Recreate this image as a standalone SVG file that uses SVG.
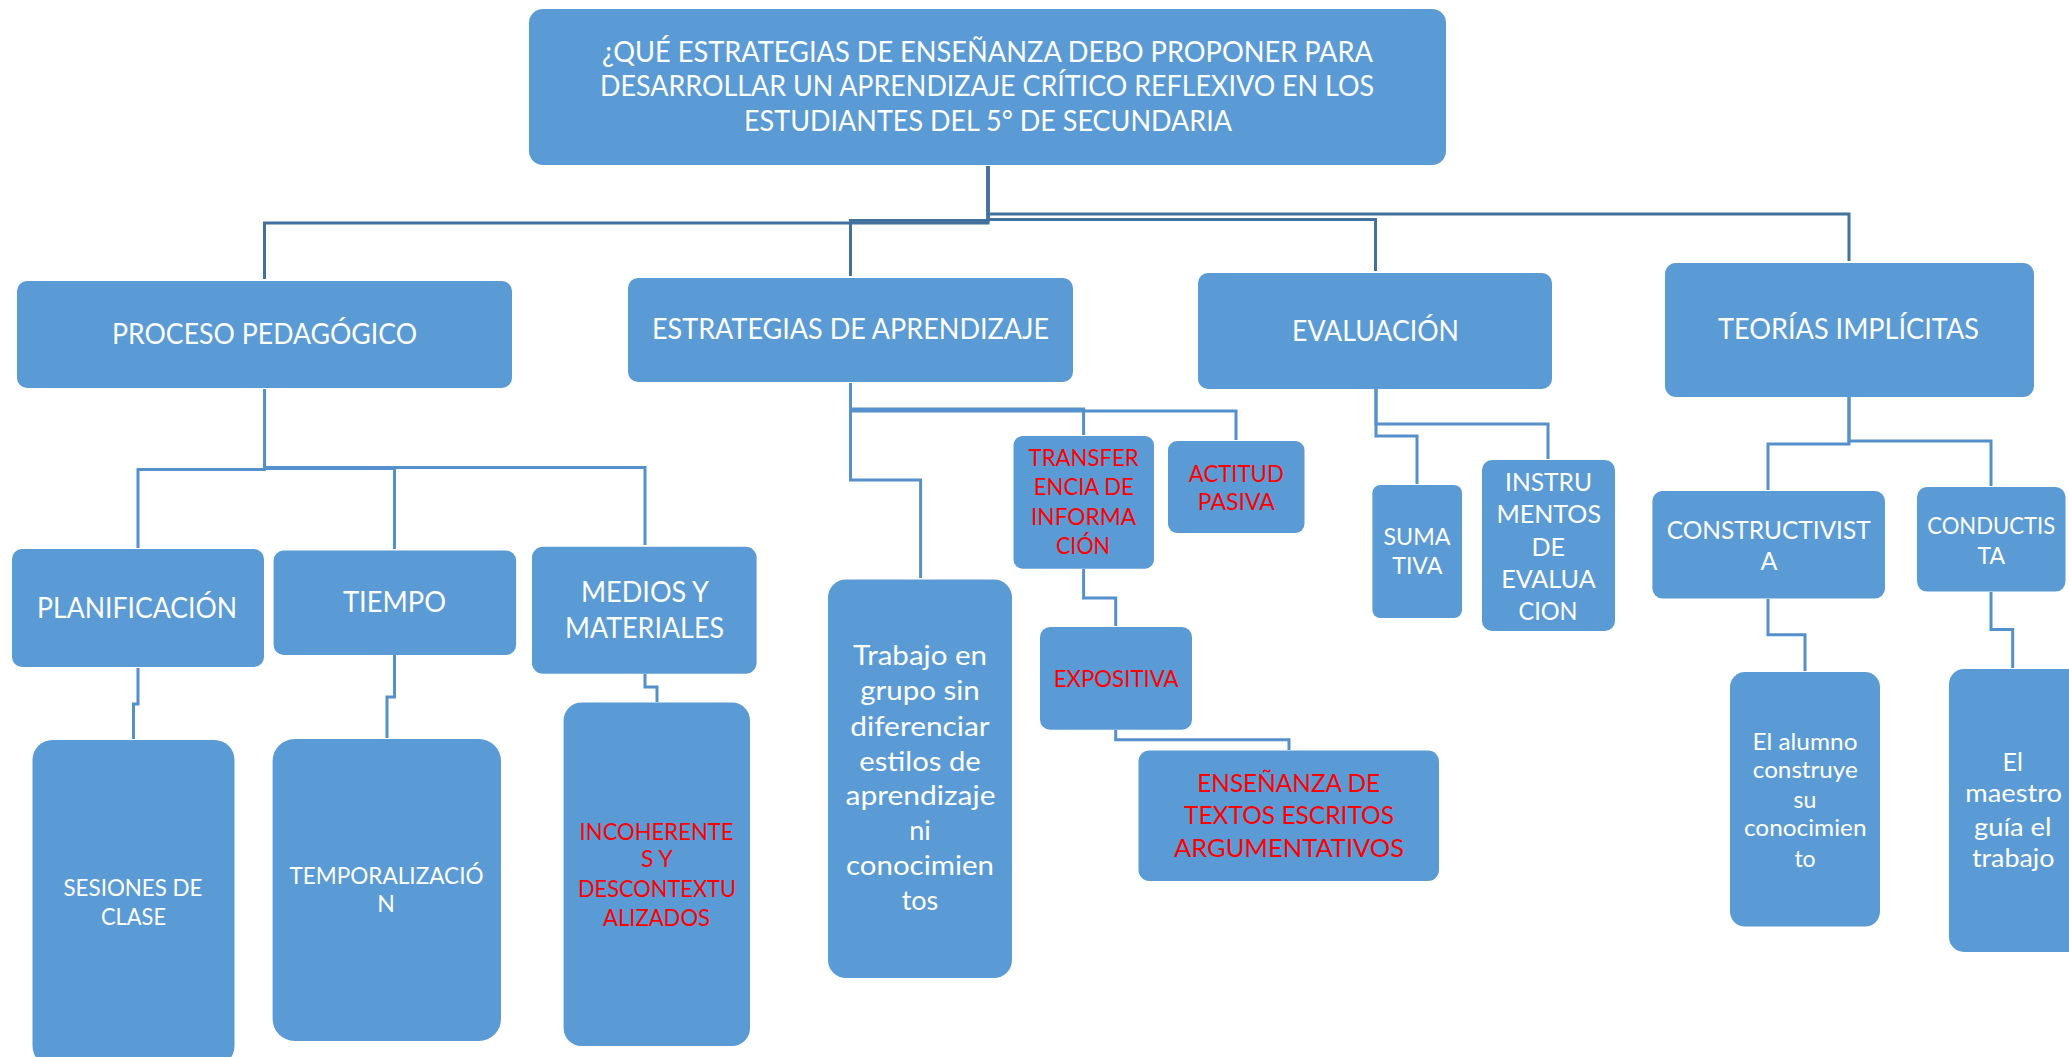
<svg xmlns="http://www.w3.org/2000/svg" width="2069" height="1057" viewBox="0 0 2069 1057">
<style>
.box{fill:#5B9BD5}
.t{font-family:Lato,"Open Sans","Liberation Sans",sans-serif;text-anchor:middle;fill:#FFFFFF}
.r{fill:#FF0000}
.s28{font-size:28px}
.s27{font-size:27px}
.s25{font-size:25px}
.s23{font-size:23px}
.c1{fill:none;stroke:#41719C;stroke-width:3}
.c2{fill:none;stroke:#5490CC;stroke-width:3}
</style>
<rect width="2069" height="1057" fill="#FFFFFF"/>
<g id="connectors">
<path class="c1" d="M988,166 V223 H264.5 V279"/>
<path class="c1" d="M988,166 V220.5 H850.5 V276"/>
<path class="c1" d="M988,166 V219.5 H1375.5 V271"/>
<path class="c1" d="M988,166 V214 H1849 V261"/>
<path class="c2" d="M264.5,389 V469.5 H138 V548"/>
<path class="c2" d="M264.5,389 V468.5 H394.5 V549"/>
<path class="c2" d="M264.5,389 V467.5 H645 V545"/>
<path class="c2" d="M138,668 V704 H133.5 V739"/>
<path class="c2" d="M394.5,655 V697 H387 V738"/>
<path class="c2" d="M645,674 V687 H657 V702"/>
<path class="c2" d="M850.5,383 V409 H1083.6 V435"/>
<path class="c2" d="M850.5,383 V411 H1236 V440"/>
<path class="c2" d="M850.5,383 V480 H920.6 V578"/>
<path class="c2" d="M1083.6,569 V598 H1115.7 V626"/>
<path class="c2" d="M1115.7,730 V739.7 H1289 V750"/>
<path class="c2" d="M1376,389 V424 H1548 V459"/>
<path class="c2" d="M1376,389 V436 H1417 V484"/>
<path class="c2" d="M1849,397 V444 H1768 V490"/>
<path class="c2" d="M1849,397 V441 H1991 V486"/>
<path class="c2" d="M1768,599 V634.7 H1805 V671"/>
<path class="c2" d="M1991,592 V629.6 H2012.7 V668"/>
</g>
<g id="n-top">
<rect class="box" x="529" y="9" width="917" height="156" rx="14"/>
<text class="t s28" x="987.5" y="62" textLength="771" lengthAdjust="spacingAndGlyphs">¿QUÉ ESTRATEGIAS DE ENSEÑANZA DEBO PROPONER PARA</text>
<text class="t s28" x="987" y="96" textLength="774" lengthAdjust="spacingAndGlyphs">DESARROLLAR UN APRENDIZAJE CRÍTICO REFLEXIVO EN LOS</text>
<text class="t s28" x="988" y="131" textLength="488" lengthAdjust="spacingAndGlyphs">ESTUDIANTES DEL 5° DE SECUNDARIA</text>
</g>
<g id="n-proceso">
<rect class="box" x="17" y="281" width="495" height="107" rx="10"/>
<text class="t s28" x="264.5" y="344" textLength="305" lengthAdjust="spacingAndGlyphs">PROCESO PEDAGÓGICO</text>
</g>
<g id="n-estrategias">
<rect class="box" x="628" y="278" width="445" height="104" rx="10"/>
<text class="t s28" x="850.5" y="339" textLength="397" lengthAdjust="spacingAndGlyphs">ESTRATEGIAS DE APRENDIZAJE</text>
</g>
<g id="n-evaluacion">
<rect class="box" x="1198" y="273" width="354" height="116" rx="10"/>
<text class="t s28" x="1375.5" y="341" textLength="167" lengthAdjust="spacingAndGlyphs">EVALUACIÓN</text>
</g>
<g id="n-teorias">
<rect class="box" x="1665" y="263" width="369" height="134" rx="11"/>
<text class="t s28" x="1848.5" y="339" textLength="261" lengthAdjust="spacingAndGlyphs">TEORÍAS IMPLÍCITAS</text>
</g>
<g id="n-planificacion">
<rect class="box" x="12" y="549" width="252" height="118" rx="10"/>
<text class="t s28" x="137" y="618" textLength="200" lengthAdjust="spacingAndGlyphs">PLANIFICACIÓN</text>
</g>
<g id="n-tiempo">
<rect class="box" x="273.6" y="550.5" width="242.5" height="104.5" rx="10"/>
<text class="t s28" x="394.5" y="612" textLength="103" lengthAdjust="spacingAndGlyphs">TIEMPO</text>
</g>
<g id="n-medios">
<rect class="box" x="532" y="546.7" width="224.6" height="127" rx="11"/>
<text class="t s28" x="645" y="602" textLength="128" lengthAdjust="spacingAndGlyphs">MEDIOS Y</text>
<text class="t s28" x="644.5" y="638" textLength="159" lengthAdjust="spacingAndGlyphs">MATERIALES</text>
</g>
<g id="n-sesiones">
<rect class="box" x="32.5" y="740" width="202" height="326" rx="20"/>
<text class="t s23" x="133" y="896" textLength="139" lengthAdjust="spacingAndGlyphs">SESIONES DE</text>
<text class="t s23" x="133.5" y="925" textLength="65" lengthAdjust="spacingAndGlyphs">CLASE</text>
</g>
<g id="n-temporalizacion">
<rect class="box" x="272.6" y="739" width="228.4" height="302" rx="22"/>
<text class="t s23" x="386.5" y="883.5" textLength="194" lengthAdjust="spacingAndGlyphs">TEMPORALIZACIÓ</text>
<text class="t s23" x="386" y="912">N</text>
</g>
<g id="n-incoherentes">
<rect class="box" x="563.6" y="702.5" width="186.4" height="343.5" rx="18"/>
<text class="t s23 r" x="656.6" y="840" textLength="154" lengthAdjust="spacingAndGlyphs">INCOHERENTE</text>
<text class="t s23 r" x="657" y="867">S Y</text>
<text class="t s23 r" x="657" y="897" textLength="158" lengthAdjust="spacingAndGlyphs">DESCONTEXTU</text>
<text class="t s23 r" x="656.5" y="926" textLength="107" lengthAdjust="spacingAndGlyphs">ALIZADOS</text>
</g>
<g id="n-transferencia">
<rect class="box" x="1013.5" y="436" width="140.5" height="132.7" rx="9"/>
<text class="t s23 r" x="1083.6" y="466.4" textLength="110" lengthAdjust="spacingAndGlyphs">TRANSFER</text>
<text class="t s23 r" x="1083.8" y="495.3" textLength="100" lengthAdjust="spacingAndGlyphs">ENCIA DE</text>
<text class="t s23 r" x="1083.5" y="524.6" textLength="105" lengthAdjust="spacingAndGlyphs">INFORMA</text>
<text class="t s23 r" x="1083" y="553.6" textLength="54" lengthAdjust="spacingAndGlyphs">CIÓN</text>
</g>
<g id="n-actitud">
<rect class="box" x="1168" y="441" width="136.5" height="92" rx="9"/>
<text class="t s23 r" x="1236.3" y="481.5" textLength="95" lengthAdjust="spacingAndGlyphs">ACTITUD</text>
<text class="t s23 r" x="1236.3" y="509.5" textLength="77" lengthAdjust="spacingAndGlyphs">PASIVA</text>
</g>
<g id="n-trabajo">
<rect class="box" x="828" y="579.5" width="184" height="398.5" rx="18"/>
<text class="t s27" x="920" y="665" textLength="134" lengthAdjust="spacingAndGlyphs">Trabajo en</text>
<text class="t s27" x="920" y="700" textLength="119.5" lengthAdjust="spacingAndGlyphs">grupo sin</text>
<text class="t s27" x="920" y="736" textLength="139.5" lengthAdjust="spacingAndGlyphs">diferenciar</text>
<text class="t s27" x="920" y="770.8" textLength="121.5" lengthAdjust="spacingAndGlyphs">estilos de</text>
<text class="t s27" x="920.5" y="805" textLength="150" lengthAdjust="spacingAndGlyphs">aprendizaje</text>
<text class="t s27" x="920" y="840">ni</text>
<text class="t s27" x="920" y="875" textLength="148" lengthAdjust="spacingAndGlyphs">conocimien</text>
<text class="t s27" x="920" y="910">tos</text>
</g>
<g id="n-expositiva">
<rect class="box" x="1040" y="627" width="152" height="102.7" rx="10"/>
<text class="t s23 r" x="1116.2" y="687" textLength="125" lengthAdjust="spacingAndGlyphs">EXPOSITIVA</text>
</g>
<g id="n-ensenanza">
<rect class="box" x="1138.5" y="750.5" width="300.5" height="130.5" rx="11"/>
<text class="t s25 r" x="1288.7" y="792" textLength="183" lengthAdjust="spacingAndGlyphs">ENSEÑANZA DE</text>
<text class="t s25 r" x="1289" y="824" textLength="210" lengthAdjust="spacingAndGlyphs">TEXTOS ESCRITOS</text>
<text class="t s25 r" x="1289" y="857" textLength="230" lengthAdjust="spacingAndGlyphs">ARGUMENTATIVOS</text>
</g>
<g id="n-sumativa">
<rect class="box" x="1372.4" y="485" width="89.6" height="133" rx="8"/>
<text class="t s23" x="1417" y="545.4" textLength="67" lengthAdjust="spacingAndGlyphs">SUMA</text>
<text class="t s23" x="1417.3" y="574.3" textLength="50" lengthAdjust="spacingAndGlyphs">TIVA</text>
</g>
<g id="n-instrumentos">
<rect class="box" x="1482" y="460" width="133" height="171" rx="10"/>
<text class="t s25" x="1548.5" y="491" textLength="87" lengthAdjust="spacingAndGlyphs">INSTRU</text>
<text class="t s25" x="1548.7" y="522.5" textLength="104.6" lengthAdjust="spacingAndGlyphs">MENTOS</text>
<text class="t s25" x="1548.3" y="555.7">DE</text>
<text class="t s25" x="1548.4" y="587.7" textLength="94.5" lengthAdjust="spacingAndGlyphs">EVALUA</text>
<text class="t s25" x="1548" y="619.6" textLength="59" lengthAdjust="spacingAndGlyphs">CION</text>
</g>
<g id="n-constructivista">
<rect class="box" x="1652.4" y="491" width="232.6" height="107.5" rx="10"/>
<text class="t s25" x="1768.7" y="538.5" textLength="204" lengthAdjust="spacingAndGlyphs">CONSTRUCTIVIST</text>
<text class="t s25" x="1768.9" y="570">A</text>
</g>
<g id="n-conductista">
<rect class="box" x="1917" y="487" width="148.5" height="104.6" rx="10"/>
<text class="t s23" x="1991.2" y="534" textLength="128" lengthAdjust="spacingAndGlyphs">CONDUCTIS</text>
<text class="t s23" x="1991.2" y="563.5">TA</text>
</g>
<g id="n-alumno">
<rect class="box" x="1730" y="672" width="150" height="254.6" rx="15"/>
<text class="t s23" x="1805" y="750" textLength="105" lengthAdjust="spacingAndGlyphs">El alumno</text>
<text class="t s23" x="1805.3" y="778" textLength="105" lengthAdjust="spacingAndGlyphs">construye</text>
<text class="t s23" x="1805" y="807.5">su</text>
<text class="t s23" x="1805.2" y="836.4" textLength="122.6" lengthAdjust="spacingAndGlyphs">conocimien</text>
<text class="t s23" x="1805" y="866.6">to</text>
</g>
<g id="n-maestro">
<rect class="box" x="1949" y="669" width="140" height="283" rx="15"/>
<text class="t s25" x="2012.7" y="770.8">El</text>
<text class="t s25" x="2013.7" y="802" textLength="96.7" lengthAdjust="spacingAndGlyphs">maestro</text>
<text class="t s25" x="2012.7" y="835.5" textLength="77.4" lengthAdjust="spacingAndGlyphs">guía el</text>
<text class="t s25" x="2013.2" y="867" textLength="82.6" lengthAdjust="spacingAndGlyphs">trabajo</text>
</g>
</svg>
